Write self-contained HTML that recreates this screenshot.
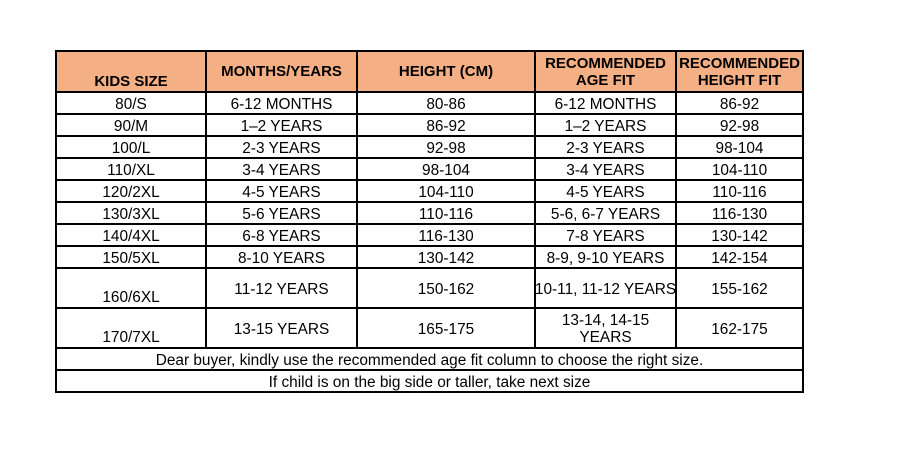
<!DOCTYPE html>
<html><head><style>
body{margin:0;width:924px;height:456px;background:#fff;position:relative;overflow:hidden;font-family:"Liberation Sans",Arial,sans-serif;font-size:15.4px;color:#000}
.c{position:absolute;display:flex;align-items:center;justify-content:center;text-align:center;line-height:17px;white-space:nowrap}
.h{background:#f4b084;font-weight:bold}
.b{font-weight:bold;font-size:15px}
.l{position:absolute;background:#000}
</style></head><body>
<div class="c h" style="left:56px;top:51px;width:747px;height:41px"></div>
<div class="c b" style="left:56px;top:51px;width:150px;height:41px;align-items:flex-end"><span style="position:relative;top:-2px">KIDS SIZE</span></div>
<div class="c b" style="left:206px;top:51px;width:151px;height:41px">MONTHS/YEARS</div>
<div class="c b" style="left:357px;top:51px;width:178px;height:41px">HEIGHT (CM)</div>
<div class="c b" style="left:535px;top:51px;width:141px;height:41px">RECOMMENDED<br>AGE FIT</div>
<div class="c b" style="left:676px;top:51px;width:127px;height:41px">RECOMMENDED<br>HEIGHT FIT</div>
<div id="rows"></div>
<script>
var rows=[["80/S","6-12 MONTHS","80-86","6-12 MONTHS","86-92"],["90/M","1–2 YEARS","86-92","1–2 YEARS","92-98"],["100/L","2-3 YEARS","92-98","2-3 YEARS","98-104"],["110/XL","3-4 YEARS","98-104","3-4 YEARS","104-110"],["120/2XL","4-5 YEARS","104-110","4-5 YEARS","110-116"],["130/3XL","5-6 YEARS","110-116","5-6, 6-7 YEARS","116-130"],["140/4XL","6-8 YEARS","116-130","7-8 YEARS","130-142"],["150/5XL","8-10 YEARS","130-142","8-9, 9-10 YEARS","142-154"],["160/6XL","11-12 YEARS","150-162","10-11, 11-12 YEARS","155-162"],["170/7XL","13-15 YEARS","165-175","13-14, 14-15<br>YEARS","162-175"]];
var ys=[92,114,136,158,180,202,224,246,268,308,348];
var xs=[56,206,357,535,676,803];
var h="";
for(var i=0;i<rows.length;i++){for(var j=0;j<5;j++){var y=ys[i],hh=ys[i+1]-y;var st="left:"+xs[j]+"px;top:"+y+"px;width:"+(xs[j+1]-xs[j])+"px;height:"+hh+"px";if(j==0&&i>=8)st+=";align-items:flex-end";h+='<div class="c" style="'+st+'"><span style="position:relative;top:'+(j==0&&i>=8?-2:1)+'px">'+rows[i][j]+'</span></div>';}}
h+='<div class="c" style="left:56px;top:348px;width:747px;height:22px"><span style="position:relative;top:1px">Dear buyer, kindly use the recommended age fit column to choose the right size.</span></div>';
h+='<div class="c" style="left:56px;top:370px;width:747px;height:22px"><span style="position:relative;top:1px">If child is on the big side or taller, take next size</span></div>';
var hy=[51,92,114,136,158,180,202,224,246,268,308,348,370,392];
for(var k=0;k<hy.length;k++)h+='<div class="l" style="left:55px;top:'+(hy[k]-1)+'px;width:749px;height:2px"></div>';
h+='<div class="l" style="left:55px;top:50px;width:2px;height:343px"></div><div class="l" style="left:802px;top:50px;width:2px;height:343px"></div>';
for(var k=1;k<5;k++)h+='<div class="l" style="left:'+(xs[k]-1)+'px;top:50px;width:2px;height:299px"></div>';
document.getElementById("rows").innerHTML=h;
</script>
</body></html>
